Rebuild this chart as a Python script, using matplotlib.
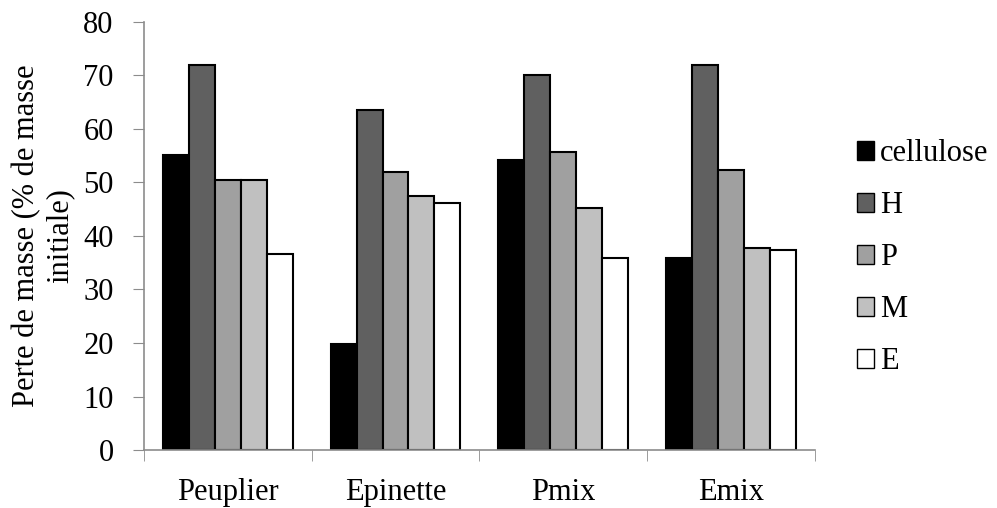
import matplotlib
matplotlib.use("Agg")
import matplotlib.pyplot as plt
import numpy as np

categories = ["Peuplier", "Epinette", "Pmix", "Emix"]
series_names = ["cellulose", "H", "P", "M", "E"]
cellulose = [55.1, 19.8, 54.1, 35.9]
H = [71.9, 63.6, 70.0, 72.0]
P = [50.4, 52.0, 55.6, 52.3]
M = [50.4, 47.5, 45.2, 37.8]
E = [36.6, 46.2, 35.8, 37.4]
yticks = [0, 10, 20, 30, 40, 50, 60, 70, 80]

series = [cellulose, H, P, M, E]
colors = ["#000000", "#606060", "#a0a0a0", "#c0c0c0", "#ffffff"]

plt.rcParams['font.family'] = ['Liberation Serif', 'DejaVu Serif']
FS = 22

fig = plt.figure(figsize=(9.97, 5.08), dpi=100)
ax = fig.add_axes([0.1445, 0.114, 0.6725, 0.843])

x = np.arange(len(categories))
w = 0.155
for i, (vals, c, name) in enumerate(zip(series, colors, series_names)):
    ax.bar(x + (i - 2) * w, vals, width=w, color=c, edgecolor="black",
           linewidth=1.5, label=name, zorder=2)

ax.set_xlim(-0.5, len(categories) - 0.5)
ax.set_ylim(0, 80)
ax.set_yticks(yticks)
ax.set_yticklabels([str(t) for t in yticks], fontsize=FS)
ax.set_xticks(x)
ax.set_xticklabels(categories, fontsize=FS)
ax.tick_params(axis='x', length=0, pad=20)
ax.set_xticks(np.arange(-0.5, len(categories) + 0.5, 1), minor=True)
ax.tick_params(axis='x', which='minor', length=8, color='#8c8c8c', direction='out')
ax.tick_params(axis='y', length=8, color='#8c8c8c', direction='out', pad=14)

for s in ['top', 'right']:
    ax.spines[s].set_visible(False)
for s in ['left', 'bottom']:
    ax.spines[s].set_color('#8c8c8c')
    ax.spines[s].set_linewidth(1.2)

ax.set_ylabel("Perte de masse (% de masse\ninitiale)", fontsize=FS,
              labelpad=6, linespacing=1.2)

leg = ax.legend(loc='center left', bbox_to_anchor=(1.045, 0.449), frameon=False,
                fontsize=FS, handlelength=0.55, handleheight=0.55,
                handletextpad=0.2, labelspacing=0.75, borderaxespad=0)
for h in leg.legend_handles:
    h.set_linewidth(1.0)

fig.savefig("out.png", dpi=100)
